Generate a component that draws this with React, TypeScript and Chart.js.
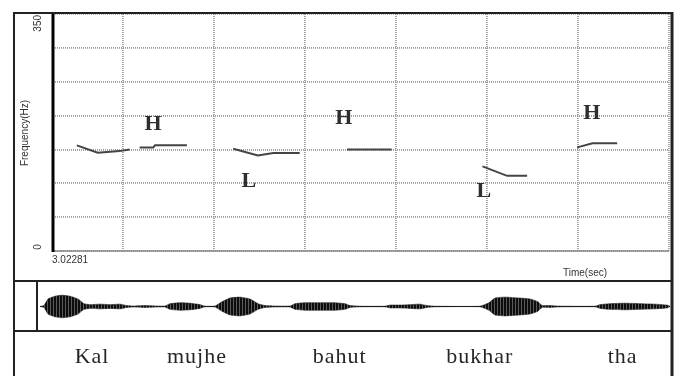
import React, { useEffect, useRef } from "react";
import { Chart, registerables } from "chart.js";
Chart.register(...registerables);

// ---- axis settings ----
const X_MIN = 3.02281;
const X_MAX = 3.7;
const xGridTicks = [3.1, 3.2, 3.3, 3.4, 3.5, 3.6, 3.7];
const Y_MIN = 0;
const Y_MAX = 350;
const Y_STEP = 50;
const yLabelValues = [0, 350];
const yTickLabels = ["0", "350"];
const xStartLabel = "3.02281";
const xTitle = "Time(sec)";
const yTitle = "Frequency(Hz)";

// ---- pitch contour segments (time s, Hz) ----
const segKal1T = [3.049, 3.072, 3.096, 3.107];
const segKal1Hz = [156, 145, 147.5, 150];
const segKal2T = [3.118, 3.133, 3.135, 3.17];
const segKal2Hz = [153, 153, 156, 156];
const segMujheT = [3.221, 3.248, 3.265, 3.294];
const segMujheHz = [151, 141, 144.6, 144.6];
const segBahutT = [3.346, 3.395];
const segBahutHz = [150, 150];
const segBukharT = [3.495, 3.522, 3.544];
const segBukharHz = [125, 111, 111];
const segThaT = [3.599, 3.616, 3.643];
const segThaHz = [153, 159, 159];

// ---- tone labels ----
const toneLabels = ["H", "L", "H", "L", "H"];
const toneT = [3.1327, 3.2382, 3.3426, 3.4965, 3.6152];
const toneHz = [187, 103, 196, 88, 203];

// ---- words ----
const words = ["Kal", "mujhe", "bahut", "bukhar", "tha"];
const wordT = [3.0657, 3.181, 3.338, 3.492, 3.649];

// ---- waveform envelope ----
const WAVE_MIN = 3.00523;
const WAVE_MAX = 3.7031;
const waveT = [
  3.0085, 3.0129, 3.0173, 3.025, 3.0327, 3.0415, 3.0503, 3.0569, 3.0635, 3.0745,
  3.0855, 3.0964, 3.1041, 3.1107, 3.1239, 3.1371, 3.1459, 3.1514, 3.1624, 3.1734,
  3.1844, 3.1899, 3.2009, 3.2085, 3.2173, 3.2283, 3.2393, 3.2481, 3.2558, 3.2668,
  3.2833, 3.2888, 3.2998, 3.3163, 3.3327, 3.3437, 3.3492, 3.3602, 3.3877, 3.3932,
  3.4042, 3.4152, 3.4262, 3.4339, 3.4426, 3.4921, 3.502, 3.5086, 3.5196, 3.5361,
  3.547, 3.5558, 3.5602, 3.569, 3.5767, 3.5855, 3.6185, 3.624, 3.635, 3.6515,
  3.6679, 3.6844, 3.6976, 3.7009,
];
const waveAmp = [
  0, 1, 8, 11, 12, 11, 8, 3, 2, 2.5,
  2, 2.5, 1, 0.5, 1, 0.5, 0.5, 3, 4, 3.5,
  2, 0.3, 0.5, 5, 9, 10, 8, 3, 1, 0.5,
  0.5, 3, 4, 4, 4, 3, 1, 0.3, 0.3, 1.5,
  1.5, 2, 2.5, 1, 0.3, 0.3, 4, 9, 10, 9,
  8, 5, 1, 1, 0.5, 0.3, 0.3, 2, 3, 3.5,
  3, 2.5, 1.5, 0.3,
];

const decor = {
  id: "decor",
  afterDraw(chart: any) {
    const { ctx, chartArea: a, scales } = chart;
    const xs = scales.x;
    const ys = scales.y;
    ctx.save();
    // outer frame
    ctx.strokeStyle = "#222";
    ctx.lineWidth = 2;
    ctx.beginPath();
    ctx.moveTo(14, 376);
    ctx.lineTo(14, 13);
    ctx.lineTo(673, 13);
    ctx.stroke();
    ctx.lineWidth = 3;
    ctx.beginPath();
    ctx.moveTo(672, 12);
    ctx.lineTo(672, 376);
    ctx.stroke();
    // waveform box
    ctx.lineWidth = 2;
    ctx.beginPath();
    ctx.moveTo(14, 281);
    ctx.lineTo(672, 281);
    ctx.moveTo(14, 331);
    ctx.lineTo(672, 331);
    ctx.moveTo(37, 281);
    ctx.lineTo(37, 331);
    ctx.stroke();
    // axes
    ctx.strokeStyle = "#8a8a8a";
    ctx.lineWidth = 1.5;
    ctx.beginPath();
    ctx.moveTo(a.left, a.bottom);
    ctx.lineTo(a.right, a.bottom);
    ctx.stroke();
    ctx.strokeStyle = "#000";
    ctx.lineWidth = 3;
    ctx.beginPath();
    ctx.moveTo(a.left, a.top);
    ctx.lineTo(a.left, a.bottom + 1);
    ctx.stroke();

    // small sans texts
    ctx.fillStyle = "#333";
    ctx.font = '10px "Liberation Sans", Arial, sans-serif';
    ctx.textBaseline = "middle";
    yLabelValues.forEach((v, i) => {
      const py = ys.getPixelForValue(v);
      ctx.save();
      ctx.translate(38, i === 0 ? py - 4 : py + 1);
      ctx.rotate(-Math.PI / 2);
      ctx.textAlign = i === 0 ? "center" : "right";
      ctx.fillText(yTickLabels[i], 0, 0);
      ctx.restore();
    });
    ctx.save();
    ctx.translate(25, 133);
    ctx.rotate(-Math.PI / 2);
    ctx.textAlign = "center";
    ctx.fillText(yTitle, 0, 0);
    ctx.restore();
    ctx.textAlign = "left";
    ctx.fillText(xStartLabel, xs.getPixelForValue(X_MIN) - 1, a.bottom + 9);
    ctx.textAlign = "center";
    ctx.fillText(xTitle, 585, 273);

    // tone labels
    ctx.font = 'bold 22px "Liberation Serif", "Times New Roman", serif';
    ctx.fillStyle = "#2e2e2e";
    ctx.textAlign = "center";
    toneLabels.forEach((t, i) => {
      ctx.fillText(t, xs.getPixelForValue(toneT[i]), ys.getPixelForValue(toneHz[i]));
    });

    // words
    ctx.font = '22px "Liberation Serif", "Times New Roman", serif';
    ctx.fillStyle = "#262626";
    try {
      (ctx as any).letterSpacing = "1px";
    } catch (e) {}
    words.forEach((w, i) => {
      ctx.fillText(w, xs.getPixelForValue(wordT[i]), 357);
    });
    ctx.restore();
  },
};

function seg(ts: number[], hz: number[]) {
  return {
    data: ts.map((t, i) => ({ x: t, y: hz[i] })),
    borderColor: "#444",
    borderWidth: 2,
    pointRadius: 0,
    tension: 0,
    fill: false,
  };
}

function stripePattern(): CanvasPattern | string {
  const c = document.createElement("canvas");
  c.width = 3;
  c.height = 4;
  const g = c.getContext("2d");
  if (!g) return "#151515";
  g.fillStyle = "#0d0d0d";
  g.fillRect(0, 0, 3, 4);
  g.fillStyle = "#5a5a5a";
  g.fillRect(2, 0, 1, 4);
  const p = g.createPattern(c, "repeat");
  return p || "#151515";
}

export default function App() {
  const mainRef = useRef<HTMLCanvasElement>(null);
  const waveRef = useRef<HTMLCanvasElement>(null);

  useEffect(() => {
    const gridCommon = {
      color: "#9c9c9c",
      lineWidth: 1.8,
      drawTicks: false,
    };
    const main = new Chart(mainRef.current!, {
      type: "line",
      data: {
        datasets: [
          seg(segKal1T, segKal1Hz),
          seg(segKal2T, segKal2Hz),
          seg(segMujheT, segMujheHz),
          seg(segBahutT, segBahutHz),
          seg(segBukharT, segBukharHz),
          seg(segThaT, segThaHz),
        ] as any,
      },
      options: {
        animation: false,
        responsive: false,
        maintainAspectRatio: false,
        layout: { padding: { left: 53, top: 14, right: 8, bottom: 125 } },
        plugins: { legend: { display: false }, tooltip: { enabled: false } },
        scales: {
          x: {
            type: "linear",
            min: X_MIN,
            max: X_MAX,
            afterBuildTicks: (s: any) => {
              s.ticks = xGridTicks.map((v) => ({ value: v }));
            },
            ticks: { display: false },
            grid: gridCommon,
            border: { display: false, dash: [1, 1] },
          },
          y: {
            type: "linear",
            min: Y_MIN,
            max: Y_MAX,
            ticks: { display: false, stepSize: Y_STEP },
            grid: gridCommon,
            border: { display: false, dash: [1, 1] },
          },
        },
      } as any,
      plugins: [decor],
    });

    const fillPat = stripePattern();
    const wave = new Chart(waveRef.current!, {
      type: "line",
      data: {
        datasets: [
          {
            data: waveT.map((t, i) => ({ x: t, y: waveAmp[i] })),
            borderColor: "rgba(20,20,20,0.7)",
            backgroundColor: fillPat,
            borderWidth: 0.8,
            pointRadius: 0,
            tension: 0.15,
            fill: "+1",
          },
          {
            data: waveT.map((t, i) => ({ x: t, y: -waveAmp[i] })),
            borderColor: "rgba(20,20,20,0.7)",
            borderWidth: 0.8,
            pointRadius: 0,
            tension: 0.15,
            fill: false,
          },
          {
            data: [
              { x: waveT[0], y: 0 },
              { x: waveT[waveT.length - 1], y: 0 },
            ],
            borderColor: "#333",
            borderWidth: 1,
            pointRadius: 0,
            fill: false,
          },
        ] as any,
      },
      options: {
        animation: false,
        responsive: false,
        maintainAspectRatio: false,
        layout: { padding: { left: 37, top: 284, right: 5, bottom: 47 } },
        plugins: { legend: { display: false }, tooltip: { enabled: false } },
        scales: {
          x: { type: "linear", min: WAVE_MIN, max: WAVE_MAX, display: false },
          y: { type: "linear", min: -24, max: 24, display: false },
        },
      } as any,
    });

    return () => {
      main.destroy();
      wave.destroy();
    };
  }, []);

  return (
    <div style={{ position: "absolute", left: 0, top: 0, width: 677, height: 376, background: "#fff" }}>
      <canvas ref={mainRef} width={677} height={376} style={{ position: "absolute", left: 0, top: 0, display: "block" }} />
      <canvas
        ref={waveRef}
        width={677}
        height={376}
        style={{ position: "absolute", left: 0, top: 0, display: "block", pointerEvents: "none" }}
      />
    </div>
  );
}
